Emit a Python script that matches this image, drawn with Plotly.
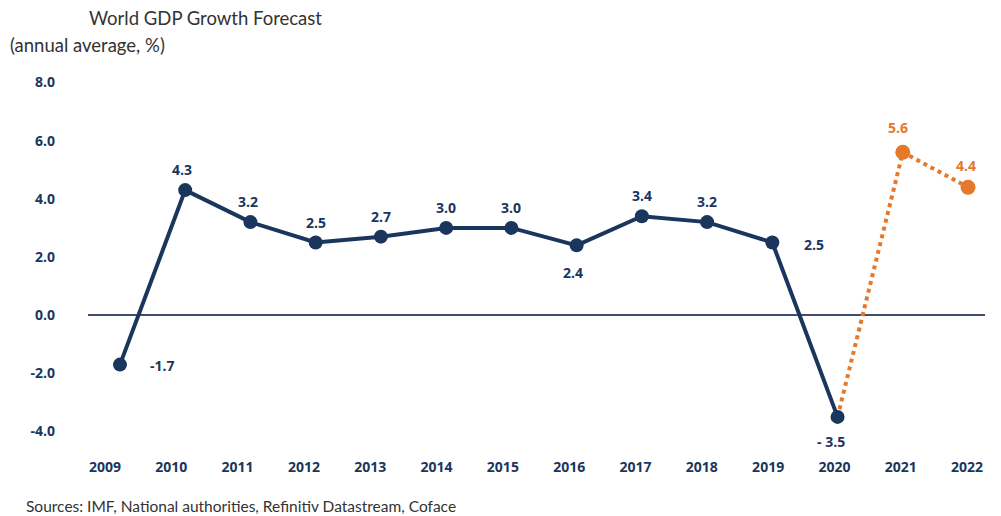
import plotly.graph_objects as go

years = [2009, 2010, 2011, 2012, 2013, 2014, 2015, 2016, 2017, 2018, 2019, 2020]
growth = [-1.7, 4.3, 3.2, 2.5, 2.7, 3.0, 3.0, 2.4, 3.4, 3.2, 2.5, -3.5]
growth_labels = ["-1.7", "4.3", "3.2", "2.5", "2.7", "3.0", "3.0", "2.4", "3.4", "3.2", "2.5", "- 3.5"]
# label placement: (x shift px, y shift px) relative to each point
label_shift = [(43, -1), (-3, 21), (-2, 21), (0, 20), (0, 20), (0, 20),
               (0, 20), (-4, -27), (0, 21), (0, 21), (42, -2), (-7, -25)]

fc_years = [2020, 2021, 2022]
fc_growth = [-3.5, 5.6, 4.4]
fc_point_years = [2021, 2022]
fc_point_growth = [5.6, 4.4]
fc_labels = ["5.6", "4.4"]
fc_shift = [(-5, 25), (-2, 22)]

all_years = years + [2021, 2022]
y_ticks = [8, 6, 4, 2, 0, -2, -4]
y_ticktext = ["8.0", "6.0", "4.0", "2.0", "0.0", "-2.0", "-4.0"]

NAVY = "#1b365d"
ORANGE = "#e5782a"
LABEL_FONT = "Open Sans"

fig = go.Figure()

fig.add_trace(go.Scatter(
    x=fc_years, y=fc_growth, mode="lines",
    line=dict(color=ORANGE, width=4, dash="dot"),
    hoverinfo="skip", showlegend=False,
))
fig.add_trace(go.Scatter(
    x=fc_point_years, y=fc_point_growth, mode="markers",
    marker=dict(color=ORANGE, size=15, opacity=1, line=dict(width=0)),
    hoverinfo="skip", showlegend=False, cliponaxis=False,
))
fig.add_trace(go.Scatter(
    x=years, y=growth, mode="lines+markers",
    line=dict(color=NAVY, width=4),
    marker=dict(color=NAVY, size=14, opacity=1, line=dict(width=0)),
    hoverinfo="skip", showlegend=False, cliponaxis=False,
))

# invisible trace for the label axis
fig.add_trace(go.Scatter(x=all_years, y=[0] * len(all_years), xaxis="x2", mode="markers",
                         marker=dict(opacity=0), hoverinfo="skip", showlegend=False))

annotations = []
for xv, yv, txt, (dx, dy) in zip(years, growth, growth_labels, label_shift):
    annotations.append(dict(x=xv, y=yv, text=txt, showarrow=False, xshift=dx, yshift=dy,
                            font=dict(family=LABEL_FONT, size=14, color=NAVY, weight="bold")))
for xv, yv, txt, (dx, dy) in zip(fc_point_years, fc_point_growth, fc_labels, fc_shift):
    annotations.append(dict(x=xv, y=yv, text=txt, showarrow=False, xshift=dx, yshift=dy,
                            font=dict(family=LABEL_FONT, size=14, color=ORANGE, weight="bold")))

W, H = 1001, 516
l, r, t, b = 88, 16, 68, 70
pw, ph = W - l - r, H - t - b


def px_to_paper(px, py):
    return (px - l) / pw, 1 - (py - t) / ph


for txt, px, py, size in [("World GDP Growth Forecast", 87, 18, 18.5),
                          ("(annual average, %)", 8, 45, 18.5),
                          ("Sources: IMF, National authorities, Refinitiv Datastream, Coface", 24, 506, 15.5)]:
    ax, ay = px_to_paper(px, py)
    annotations.append(dict(text=txt, x=ax, y=ay, xref="paper", yref="paper", showarrow=False,
                            font=dict(family="Lato", size=size, color="#333333"),
                            xanchor="left", yanchor="middle"))

fig.update_layout(
    width=W, height=H,
    margin=dict(l=l, r=r, t=t, b=b),
    paper_bgcolor="white", plot_bgcolor="white",
    xaxis=dict(range=[2008.51, 2022.26], showticklabels=False, showgrid=False,
               zeroline=False, showline=False, ticks=""),
    xaxis2=dict(overlaying="x", range=[2008.744, 2022.27], tickmode="array",
                tickvals=all_years, ticktext=[str(y) for y in all_years],
                side="bottom", showgrid=False, zeroline=False, showline=False,
                tickfont=dict(family=LABEL_FONT, size=14, color=NAVY, weight="bold"),
                ticklabelstandoff=11),
    yaxis=dict(range=[-4.5, 8.5], tickmode="array", tickvals=y_ticks, ticktext=y_ticktext,
               showgrid=False, zeroline=True, zerolinecolor="#3d4d6b", zerolinewidth=2,
               showline=False, ticklabelstandoff=32,
               tickfont=dict(family=LABEL_FONT, size=14, color=NAVY, weight="bold")),
    annotations=annotations,
)

fig.write_html("out.html")
